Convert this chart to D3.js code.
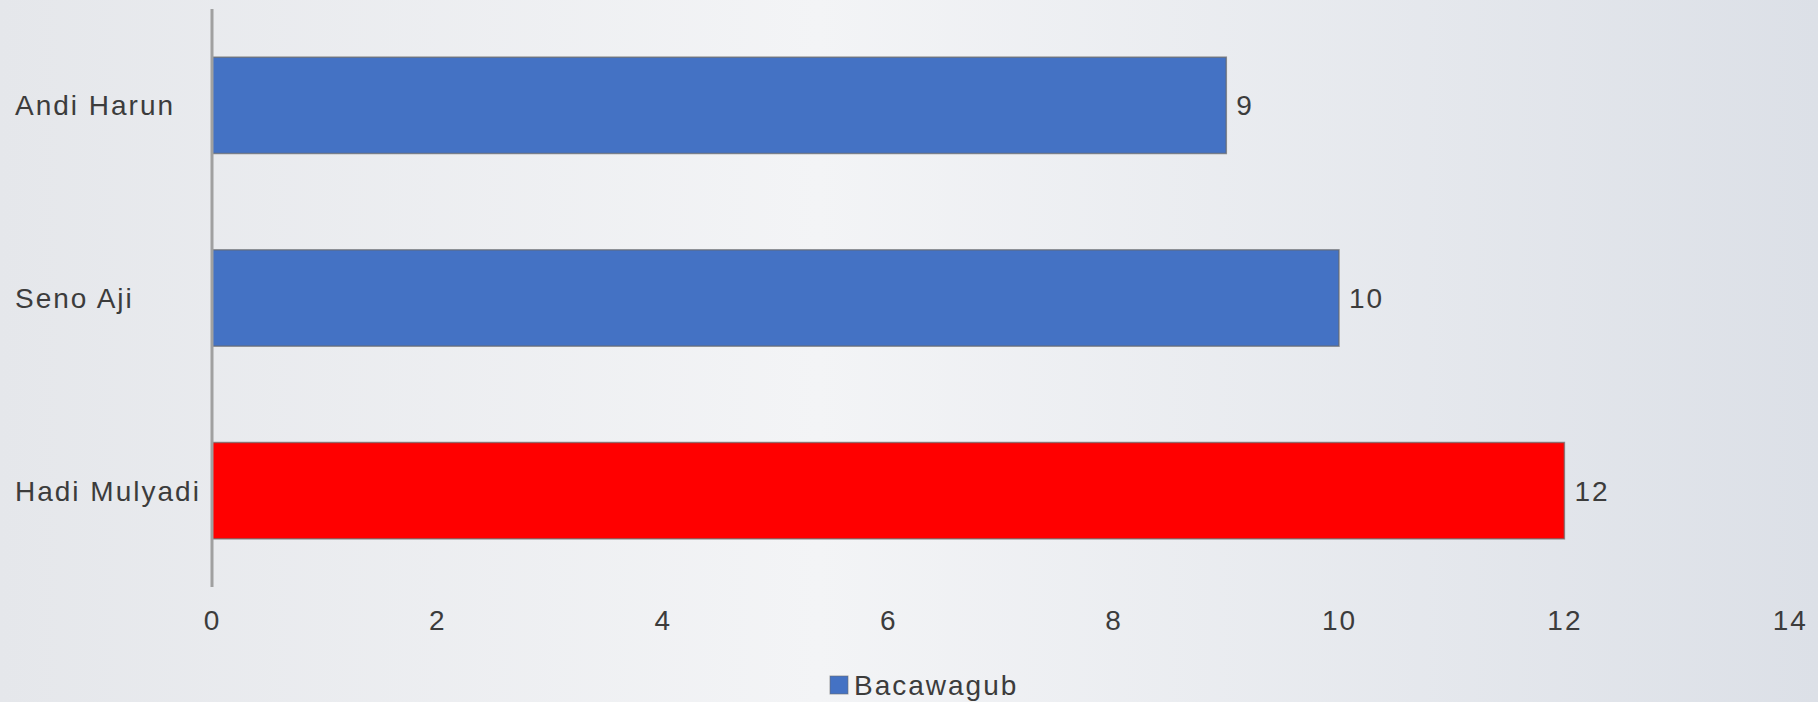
<!DOCTYPE html>
<html>
<head>
<meta charset="utf-8">
<script src="https://cdn.jsdelivr.net/npm/d3@7"></script>
<style>
  html, body { margin: 0; padding: 0; overflow: hidden; }
  svg { display: block; }
  text { font-family: "Liberation Sans", Arial, sans-serif; }
</style>
</head>
<body>
<svg id="chart" width="1818" height="702"></svg>
<script>
// ---- data ----
const categories = ["Andi Harun", "Seno Aji", "Hadi Mulyadi"];
const values = [9, 10, 12];
const barColors = ["#4472C4", "#4472C4", "#FF0000"];
const seriesName = "Bacawagub";
const seriesColor = "#4472C4";
const xTicks = [0, 2, 4, 6, 8, 10, 12, 14];

// ---- setup ----
const W = 1818, H = 702;
const svg = d3.select("#chart");
const defs = svg.append("defs");
const grad = defs.append("linearGradient").attr("id", "bg").attr("x1", "0").attr("x2", "1").attr("y1", "0").attr("y2", "0");
grad.append("stop").attr("offset", "0%").attr("stop-color", "#e5e7eb");
grad.append("stop").attr("offset", "45%").attr("stop-color", "#f3f4f6");
grad.append("stop").attr("offset", "100%").attr("stop-color", "#dce0e7");
svg.append("rect").attr("width", W).attr("height", H).attr("fill", "url(#bg)");

const x0 = 212;
const x = d3.scaleLinear().domain([0, 14]).range([x0, x0 + 14 * 112.7]);
const y = d3.scaleBand().domain(categories).range([9, 587]).paddingInner(0.5).paddingOuter(0.25);

const textColor = "#3c3c3c";
const fontSize = 28;
const ls = "2px";

// bars
svg.append("g").selectAll("rect")
  .data(categories)
  .join("rect")
  .attr("x", x(0))
  .attr("y", d => y(d))
  .attr("width", (d, i) => x(values[i]) - x(0))
  .attr("height", y.bandwidth())
  .attr("fill", (d, i) => barColors[i])
  .attr("stroke", "#6a6a6a")
  .attr("stroke-opacity", 0.7)
  .attr("stroke-width", 1.5);

// value labels
svg.append("g").selectAll("text")
  .data(categories)
  .join("text")
  .attr("x", (d, i) => x(values[i]) + 10)
  .attr("y", d => y(d) + y.bandwidth() / 2)
  .attr("dy", "0.36em")
  .attr("font-size", fontSize)
  .attr("letter-spacing", ls)
  .attr("fill", textColor)
  .text((d, i) => values[i]);

// category labels
svg.append("g").selectAll("text")
  .data(categories)
  .join("text")
  .attr("x", 15)
  .attr("y", d => y(d) + y.bandwidth() / 2)
  .attr("dy", "0.36em")
  .attr("font-size", fontSize)
  .attr("letter-spacing", ls)
  .attr("fill", textColor)
  .text(d => d);

// vertical axis line
svg.append("line")
  .attr("x1", x(0)).attr("x2", x(0))
  .attr("y1", 9).attr("y2", 587)
  .attr("stroke", "#a0a0a0")
  .attr("stroke-width", 3);

// x axis tick labels
const xAxis = d3.axisBottom(x).tickValues(xTicks).tickSize(0).tickPadding(0);
const gx = svg.append("g").attr("transform", "translate(0,620)").call(xAxis);
gx.select(".domain").remove();
gx.selectAll("text")
  .attr("y", 0)
  .attr("dy", "0.36em")
  .attr("font-size", fontSize)
  .attr("letter-spacing", ls)
  .attr("font-family", "'Liberation Sans', Arial, sans-serif")
  .attr("fill", textColor);

// legend
const lg = svg.append("g").attr("transform", "translate(830,685)");
lg.append("rect").attr("x", 0).attr("y", -9).attr("width", 18).attr("height", 18)
  .attr("fill", seriesColor).attr("stroke", "#6a6a6a").attr("stroke-opacity", 0.6).attr("stroke-width", 1);
lg.append("text").attr("x", 24).attr("y", 0).attr("dy", "0.36em")
  .attr("font-size", fontSize).attr("letter-spacing", ls).attr("fill", textColor)
  .text(seriesName);
</script>
</body>
</html>
